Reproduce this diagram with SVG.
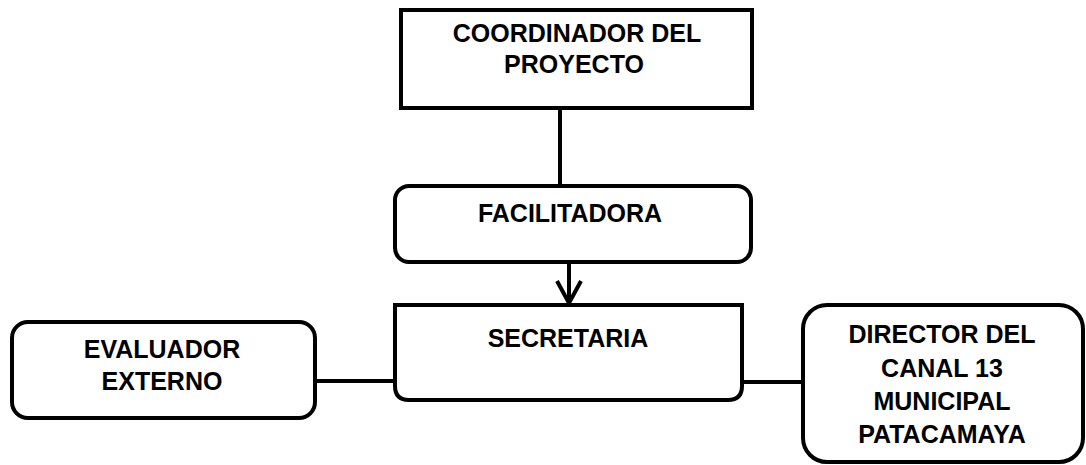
<svg xmlns="http://www.w3.org/2000/svg" width="1086" height="465" viewBox="0 0 1086 465">
<style>
.box{fill:#fff;stroke:#000;stroke-width:4}
.lbl{font-family:"Liberation Sans",Arial,sans-serif;font-weight:bold;font-size:25px;fill:#000;text-anchor:middle}
.con{stroke:#000;stroke-width:4;fill:none}
</style>
<rect width="1086" height="465" fill="#fff"/>
<g id="connectors">
<line class="con" x1="560" y1="108" x2="560" y2="186"/>
<line class="con" x1="569" y1="262" x2="569" y2="303"/>
<polyline class="con" points="557,281 569,303 581,281" stroke-width="6"/>
<line class="con" x1="315" y1="381" x2="395" y2="381"/>
<line class="con" x1="742" y1="382" x2="803" y2="382"/>
</g>
<g id="coordinador">
<rect class="box" x="401" y="10" width="351" height="98"/>
<text class="lbl" x="577" y="42">COORDINADOR DEL</text>
<text class="lbl" x="574" y="73">PROYECTO</text>
</g>
<g id="facilitadora">
<rect class="box" x="395" y="186" width="356" height="76" rx="14"/>
<text class="lbl" x="570" y="222">FACILITADORA</text>
</g>
<g id="secretaria">
<path class="box" d="M395,305 H742 V386 Q742,400 728,400 H409 Q395,400 395,386 Z"/>
<text class="lbl" x="568" y="347">SECRETARIA</text>
</g>
<g id="evaluador">
<rect class="box" x="12" y="322" width="303" height="96" rx="16"/>
<text class="lbl" x="162" y="358">EVALUADOR</text>
<text class="lbl" x="162" y="390">EXTERNO</text>
</g>
<g id="director">
<rect class="box" x="803" y="305" width="280" height="157" rx="24"/>
<text class="lbl" x="942" y="343">DIRECTOR DEL</text>
<text class="lbl" x="942" y="377">CANAL 13</text>
<text class="lbl" x="942" y="410">MUNICIPAL</text>
<text class="lbl" x="942" y="443">PATACAMAYA</text>
</g>
</svg>
